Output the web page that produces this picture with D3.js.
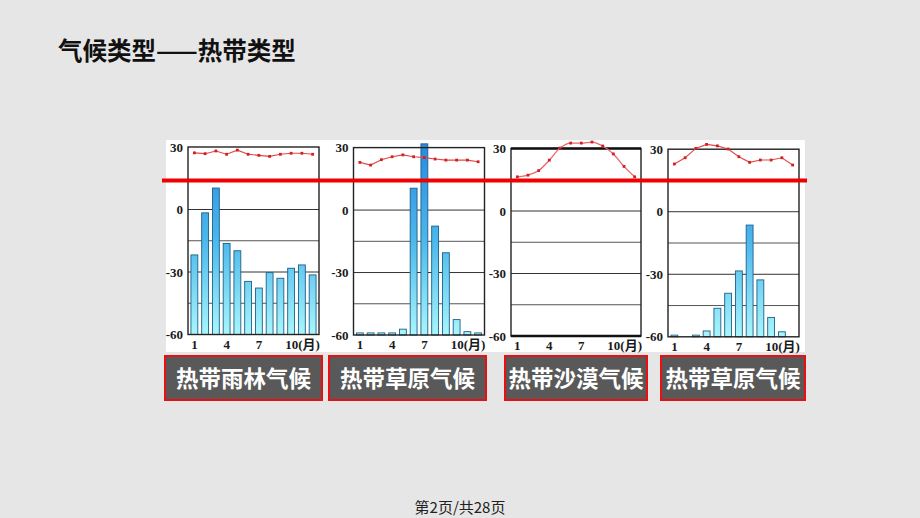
<!DOCTYPE html>
<html>
<head>
<meta charset="utf-8">
<script src="https://cdn.jsdelivr.net/npm/d3@7"></script>
<style>
  body { margin: 0; background: #e6e6e6; }
  svg { display: block; }
</style>
</head>
<body>
<div id="chart"></div>
<script>
// chart values (axis units, -60..30)
var months = [1, 2, 3, 4, 5, 6, 7, 8, 9, 10, 11, 12];
var monthTicks = [1, 4, 7, 10];
var monthTickLabels = ["1", "4", "7", "10(月)"];
var yTicks = [30, 0, -30, -60];
var gridValues = [0, -15, -30, -45];

var rainforestBars = [-21.8, -1.6, 10.3, -16.3, -19.8, -34.5, -37.7, -30.3, -33, -28.2, -26.6, -31.4];
var rainforestTemp = [27.2, 26.8, 28.1, 26.5, 28.5, 26.5, 26, 25.5, 26.5, 27, 27, 26.5];

var savannaBarsA = [-59, -59, -59, -59, -57.2, 10.5, 31.8, -7.7, -20.5, -52.6, -58.4, -59];
var savannaTempA = [22.9, 21.6, 24.2, 25.6, 26.5, 25.6, 25.2, 24.5, 24, 24, 24, 23.2];

var desertTemp = [16.4, 17.2, 19.4, 24.4, 30.2, 32.6, 32.6, 33.1, 31.2, 27.4, 21.4, 16.4];

var savannaBarsB = [-59.2, -60, -59.2, -57.2, -46.3, -39.1, -28.4, -6.4, -32.7, -50.7, -57.6, -60];
var savannaTempB = [22.9, 25.9, 30.4, 32.3, 31.6, 30.1, 26.4, 23.7, 24.8, 24.8, 25.9, 22.4];

var panelTitles = ["热带雨林气候", "热带草原气候", "热带沙漠气候", "热带草原气候"];
var pageTitle = "气候类型——热带类型";
var footer = "第2页/共28页";

var svg = d3.select("#chart")
    .append("svg")
    .attr("width", 920)
    .attr("height", 518);

var defs = svg.append("defs");

// page title
svg.append("text")
    .attr("x", 58)
    .attr("y", 60)
    .attr("font-family", "Noto Sans CJK SC")
    .attr("font-weight", "bold")
    .attr("font-size", 24.5)
    .attr("fill", "#111")
    .text(pageTitle);

// white picture background
svg.append("rect")
    .attr("x", 166)
    .attr("y", 140)
    .attr("width", 639)
    .attr("height", 212)
    .attr("fill", "#fff");

// layout of each small chart
var panels = [
    {left: 188, right: 319, top: 147, bottom: 334.5, bars: rainforestBars, temp: rainforestTemp, curve: d3.curveLinear,
     box: [165, 322]},
    {left: 353.5, right: 484.5, top: 147.6, bottom: 335, bars: savannaBarsA, temp: savannaTempA, curve: d3.curveLinear,
     box: [329, 486]},
    {left: 511, right: 641, top: 148.5, bottom: 336, bars: null, temp: desertTemp, curve: d3.curveMonotoneX,
     box: [505, 647]},
    {left: 668, right: 799, top: 149.2, bottom: 336.8, bars: savannaBarsB, temp: savannaTempB, curve: d3.curveLinear,
     box: [661, 805]}
];

panels.forEach(function(p, i) {
    var g = svg.append("g");

    var x = d3.scaleBand()
        .domain(months)
        .range([p.left + 1, p.right - 1])
        .paddingInner(0.36)
        .paddingOuter(0.18);

    var y = d3.scaleLinear()
        .domain([-60, 30])
        .range([p.bottom, p.top]);

    var gradId = "barGrad" + i;
    var grad = defs.append("linearGradient")
        .attr("id", gradId)
        .attr("gradientUnits", "userSpaceOnUse")
        .attr("x1", 0).attr("x2", 0)
        .attr("y1", y(30)).attr("y2", y(-60));
    grad.append("stop").attr("offset", 0).attr("stop-color", "#2a8ce0");
    grad.append("stop").attr("offset", 0.5).attr("stop-color", "#4cb8ec");
    grad.append("stop").attr("offset", 1).attr("stop-color", "#a8f6fb");

    // grid lines
    g.selectAll(".grid")
        .data(gridValues)
        .enter()
        .append("line")
        .attr("x1", p.left)
        .attr("x2", p.right)
        .attr("y1", d => y(d))
        .attr("y2", d => y(d))
        .attr("stroke", d => (d % 30 === 0 ? "#333" : "#555"))
        .attr("stroke-width", 1);

    // bars
    if (p.bars) {
        g.selectAll(".bar")
            .data(p.bars.map((v, k) => ({m: months[k], v: v})).filter(d => d.v > -60))
            .enter()
            .append("rect")
            .attr("x", d => x(d.m))
            .attr("width", x.bandwidth())
            .attr("y", d => y(d.v))
            .attr("height", d => y(-60) - y(d.v))
            .attr("fill", "url(#" + gradId + ")")
            .attr("stroke", "#1d5f86")
            .attr("stroke-width", 0.9);
    }

    // frame
    g.append("rect")
        .attr("x", p.left)
        .attr("y", y(30))
        .attr("width", p.right - p.left)
        .attr("height", y(-60) - y(30))
        .attr("fill", "none")
        .attr("stroke", "#222")
        .attr("stroke-width", 1.4);
    if (i === 2) {
        [30, -60].forEach(function(v) {
            g.append("line")
                .attr("x1", p.left).attr("x2", p.right)
                .attr("y1", y(v)).attr("y2", y(v))
                .attr("stroke", "#111").attr("stroke-width", 2.4);
        });
    }

    // temperature line
    var line = d3.line()
        .x((d, k) => x(months[k]) + x.bandwidth() / 2)
        .y(d => y(d))
        .curve(p.curve);

    g.append("path")
        .datum(p.temp)
        .attr("d", line)
        .attr("fill", "none")
        .attr("stroke", i === 2 ? "#e8686c" : "#e04a4a")
        .attr("stroke-width", i === 2 ? 1.3 : 1.1);

    g.selectAll(".dot")
        .data(p.temp)
        .enter()
        .append("rect")
        .attr("x", (d, k) => x(months[k]) + x.bandwidth() / 2 - 1.4)
        .attr("y", d => y(d) - 1.4)
        .attr("width", 2.8)
        .attr("height", 2.8)
        .attr("fill", "#d42020");

    // y labels
    g.selectAll(".ylab")
        .data(yTicks)
        .enter()
        .append("text")
        .attr("x", p.left - 5)
        .attr("y", d => y(d) + 4.5)
        .attr("text-anchor", "end")
        .attr("font-family", "Liberation Serif, Noto Sans CJK SC")
        .attr("font-weight", "bold")
        .attr("font-size", 13)
        .attr("fill", "#1a1a1a")
        .text(d => (d < 0 ? "-" + Math.abs(d) : d));

    // x labels
    g.selectAll(".xlab")
        .data(monthTicks)
        .enter()
        .append("text")
        .attr("x", d => x(d) + x.bandwidth() / 2 - (d === 10 ? 6 : 0))
        .attr("y", p.bottom + 14)
        .attr("text-anchor", d => (d === 10 ? "start" : "middle"))
        .attr("font-family", "Liberation Serif, Noto Sans CJK SC")
        .attr("font-weight", "bold")
        .attr("font-size", 13)
        .attr("fill", "#1a1a1a")
        .text((d, k) => monthTickLabels[k]);

    // caption box
    svg.append("rect")
        .attr("x", p.box[0])
        .attr("y", 356)
        .attr("width", p.box[1] - p.box[0])
        .attr("height", 44)
        .attr("fill", "#595959")
        .attr("stroke", "#e81010")
        .attr("stroke-width", 2);

    svg.append("text")
        .attr("x", (p.box[0] + p.box[1]) / 2)
        .attr("y", 387)
        .attr("text-anchor", "middle")
        .attr("font-family", "Noto Sans CJK SC")
        .attr("font-weight", "bold")
        .attr("font-size", 22.5)
        .attr("fill", "#fff")
        .text(panelTitles[i]);
});

// red reference line
svg.append("line")
    .attr("x1", 162)
    .attr("x2", 807)
    .attr("y1", 180.5)
    .attr("y2", 180.5)
    .attr("stroke", "#f00000")
    .attr("stroke-width", 4);

// footer
svg.append("text")
    .attr("x", 460)
    .attr("y", 513)
    .attr("text-anchor", "middle")
    .attr("font-family", "Noto Sans CJK SC")
    .attr("font-size", 15)
    .attr("fill", "#222")
    .text(footer);
</script>
</body>
</html>
